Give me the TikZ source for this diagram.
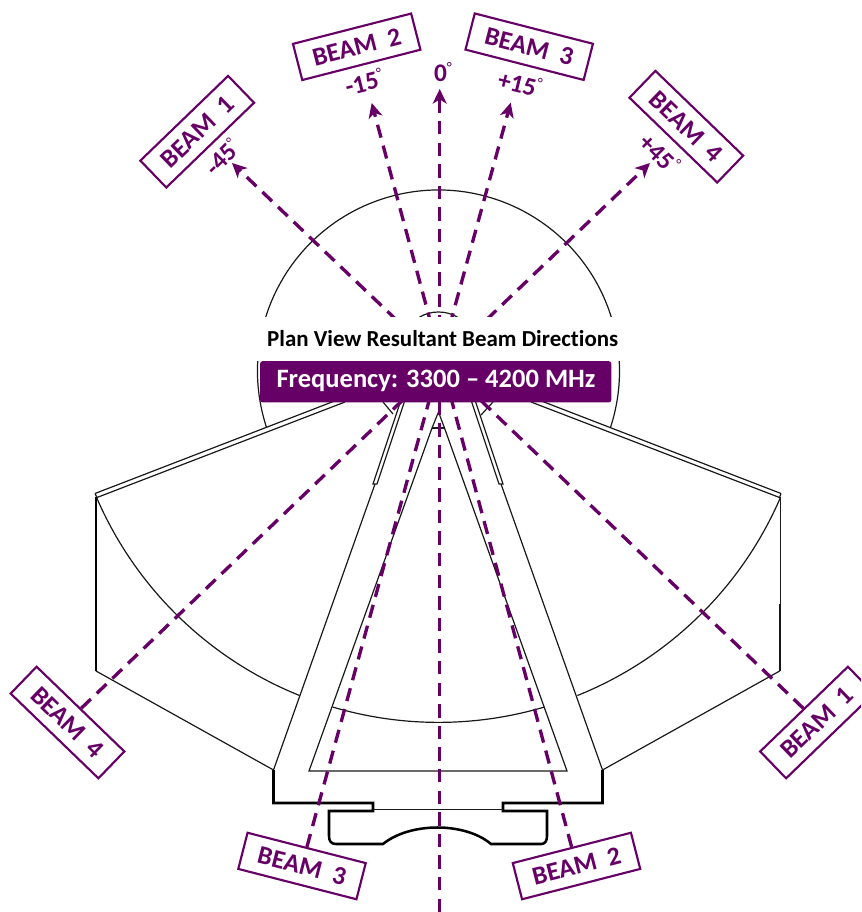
\documentclass[tikz,border=0pt]{standalone}
\usepackage{fontspec}
\setmainfont{Carlito}[Ligatures=NoCommon]
\usetikzlibrary{arrows.meta}
\definecolor{beampurple}{HTML}{660066}
\newcommand{\degsign}{\raisebox{0.75ex}{\fontsize{11pt}{11pt}\selectfont\mdseries\textdegree}}
\tikzset{
  thinline/.style={draw=black!90,line width=0.9pt},
  thickline/.style={draw=black,line width=1.9pt,line join=miter},
  beamline/.style={draw=beampurple,line width=2.5pt,dash pattern=on 10pt off 6.2pt},
  beamtip/.style={-{Stealth[length=11pt,width=10.5pt,inset=3.2pt]}},
  labelbox/.style={draw=beampurple,line width=1.6pt,minimum width=91.5pt,minimum height=28pt,inner sep=0pt,
     text=beampurple,font=\fontsize{19.5pt}{19.5pt}\selectfont\bfseries},
  anglelabel/.style={inner sep=0pt,text=beampurple,font=\fontsize{19pt}{19pt}\selectfont\bfseries},
}
\begin{document}
\begin{tikzpicture}[x=0.75pt,y=0.75pt]
\useasboundingbox (0,0) rectangle (861,-912);
\clip (0,0) rectangle (861,-912);

% drawing: arcs
\draw[thinline] ([shift={(438.5,-371)}]198.2:181) arc[start angle=198.2,end angle=-18.2,radius=181];
\draw[thinline] ([shift={(438.5,-350)}]203.3:372.4) arc[start angle=203.3,end angle=248.1,radius=372.4];
\draw[thinline] ([shift={(438.5,-350)}]253.5:372.4) arc[start angle=253.5,end angle=286.5,radius=372.4];
\draw[thinline] ([shift={(438.5,-350)}]291.9:372.4) arc[start angle=291.9,end angle=336.7,radius=372.4];
\draw[thinline] ([shift={(438.5,-350)}]60:38) arc[start angle=60,end angle=120,radius=38];

% wings
\draw[thinline] (95,-493.5) -- (345,-397);
\draw[thinline] (95,-493.5) -- (97,-497.5) -- (345,-402);
\draw[thinline] (781,-493.5) -- (531,-397);
\draw[thinline] (781,-493.5) -- (779.5,-497.5) -- (531,-402);
\draw[draw=black,line width=1.8pt] (96,-497) -- (96,-671);
\draw[thinline,line width=1.2pt] (780.5,-497) -- (780.5,-605) -- (779.7,-605) -- (779.7,-671);
\draw[thinline] (96,-671) -- (273.5,-770);
\draw[thinline] (779.7,-671) -- (602.5,-770);

% frame
\draw[thinline] (273.5,-770) -- (375,-484);
\draw[thinline] (602.5,-770) -- (501,-484);
\draw[thinline] (401,-400) -- (373,-484) -- (377,-484) -- (405,-400);
\draw[thinline] (475,-400) -- (503,-484) -- (499,-484) -- (471,-400);
\draw[thinline] (383,-402) -- (393,-414);
\draw[thinline] (493,-402) -- (481,-415);

% inner triangle
\draw[thinline] (309,-771) -- (432,-428) -- (438.5,-412) -- (444.5,-428) -- (567,-771) -- cycle;
\draw[thinline] (432,-428) -- (444.5,-428);

% base
\draw[thickline] (273.5,-770) -- (273.5,-803) -- (373,-803) -- (373,-811) -- (329,-811) -- (329,-836)
  .. controls (329,-841) and (331,-844) .. (336,-844) -- (383,-844)
  .. controls (410,-822) and (465,-822) .. (491,-844) -- (541,-844)
  .. controls (545,-844) and (547,-841) .. (547,-836) -- (547,-811) -- (503,-811) -- (503,-803) -- (602.5,-803) -- (602.5,-770);
\draw[thinline] (373,-809.5) -- (503,-809.5);

% label boxes
\node[labelbox,rotate=44]    (topone)   at (197.2,-131.7) {BEAM\ \ 1};
\node[labelbox,rotate=14.4]  (toptwo)   at (356.7,-46.8)  {BEAM\ \ 2};
\node[labelbox,rotate=-14.4] (topthree) at (529.2,-46.7)  {BEAM\ \ 3};
\node[labelbox,rotate=-44]   (topfour)  at (686.3,-126.7) {BEAM\ \ 4};
\node[labelbox,rotate=-44]   (lowfour)  at (67.5,-722.5)  {BEAM\ \ 4};
\node[labelbox,rotate=44]    (lowone)   at (817,-722.5)   {BEAM\ \ 1};
\node[labelbox,rotate=-14.4] (lowthree) at (302,-866)     {BEAM\ \ 3};
\node[labelbox,rotate=14.4]  (lowtwo)   at (576.5,-866)   {BEAM\ \ 2};

% angle labels
\node[anglelabel,rotate=45]  (angone)   at (222,-157)  {-45\degsign};
\node[anglelabel,rotate=14]  (angtwo)   at (364,-82)   {-15\degsign};
\node[anglelabel]            (angzero)  at (443,-72)   {0\degsign};
\node[anglelabel,rotate=-14] (angthree) at (520,-83)   {+15\degsign};
\node[anglelabel,rotate=-45] (angfour)  at (660,-153)  {+45\degsign};

% beams
\coordinate (tipone)   at (232,-163);
\coordinate (tiptwo)   at (371.7,-103);
\coordinate (tipzero)  at (439.7,-89);
\coordinate (tipthree) at (510.7,-102.7);
\coordinate (tipfour)  at (650,-163);
\coordinate (zerofoot) at (439.7,-912);
\draw[beamline,beamtip] (lowone.north) -- (tipone);
\draw[beamline,beamtip] (lowtwo.north) -- (tiptwo);
\draw[beamline,beamtip] (zerofoot) -- (tipzero);
\draw[beamline,beamtip] (lowthree.north) -- (tipthree);
\draw[beamline,beamtip] (lowfour.north) -- (tipfour);

% title band
\fill[white] (255,-317) rectangle (623,-361);
\node[inner sep=0pt,text=black,font=\fontsize{17.2pt}{17.2pt}\selectfont\bfseries] (plantitle) at (442.7,-339) {Plan View Resultant Beam Directions};
\node[fill=beampurple,rounded corners=2pt,minimum width=263.5pt,minimum height=31pt,inner sep=0pt] (freqbar) at (435.7,-381.8) {};
\node[inner sep=0pt,text=white,font=\fontsize{19.9pt}{19.9pt}\selectfont\bfseries] (freqtext) at (436,-380.5) {Frequency: 3300 – 4200 MHz};
\end{tikzpicture}
\end{document}
